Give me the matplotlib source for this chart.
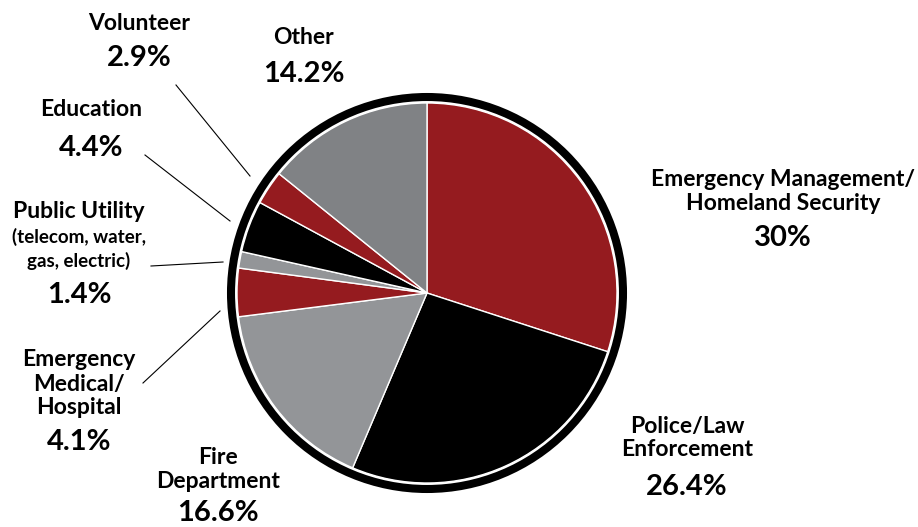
import matplotlib
matplotlib.use("Agg")
import matplotlib.pyplot as plt
from matplotlib.patches import Circle

# ---- data ----
categories = ["Emergency Management/\nHomeland Security", "Police/Law\nEnforcement",
              "Fire\nDepartment", "Emergency\nMedical/\nHospital", "Public Utility",
              "Education", "Volunteer", "Other"]
sublabels = ["", "", "", "", "(telecom, water,\ngas, electric)", "", "", ""]
values = [30, 26.4, 16.6, 4.1, 1.4, 4.4, 2.9, 14.2]
pct_labels = ["30%", "26.4%", "16.6%", "4.1%", "1.4%", "4.4%", "2.9%", "14.2%"]
colors = ["#951b1f", "#000000", "#939598", "#951b1f", "#939598", "#000000", "#951b1f", "#808285"]

# ---- layout (pixel positions, y from top) ----
W, H = 918, 527
cx, cy, R = 427, 293, 190
label_x = [783, 687, 218, 79, 79, 91, 139, 304]
label_y = [180, 426, 458, 360, 211, 110, 23, 38]
pct_y = [238, 487, 513, 442, 295, 148, 58, 74]
line_gap = 24
sub_y = 237
# leader lines: (label end) -> (pie end), pixel coordinates
leaders = {3: ((143, 383), (220, 311)),
           4: ((151, 266), (223, 262)),
           5: ((145, 155), (230, 221)),
           6: ((176, 85), (250, 176))}

FONT = ["Lato", "DejaVu Sans"]

fig = plt.figure(figsize=(W / 100, H / 100), dpi=100)
ax = fig.add_axes([0, 0, 1, 1])

ax.pie(values, colors=colors, startangle=90, counterclock=False,
       center=(cx, H - cy), radius=R,
       wedgeprops=dict(edgecolor="white", linewidth=1.0))
ax.add_patch(Circle((cx, H - cy), 196, fill=False, edgecolor="black", linewidth=5.8))

ax.set_xlim(0, W)
ax.set_ylim(0, H)
ax.set_aspect("equal")
ax.axis("off")

for i, cat in enumerate(categories):
    for j, line in enumerate(cat.split("\n")):
        ax.text(label_x[i], H - (label_y[i] + j * line_gap), line, ha="center", va="center",
                fontsize=16.5, fontweight="bold", family=FONT, color="black")
    if sublabels[i]:
        for j, line in enumerate(sublabels[i].split("\n")):
            ax.text(label_x[i], H - (sub_y + j * line_gap), line, ha="center", va="center",
                    fontsize=13.5, fontweight="bold", family=FONT, color="black")
    ax.text(label_x[i], H - pct_y[i], pct_labels[i], ha="center", va="center",
            fontsize=21, fontweight="bold", family=FONT, color="black")

for i, (p0, p1) in leaders.items():
    ax.plot([p0[0], p1[0]], [H - p0[1], H - p1[1]], color="black", linewidth=0.8)

fig.savefig("out.png", dpi=100)
